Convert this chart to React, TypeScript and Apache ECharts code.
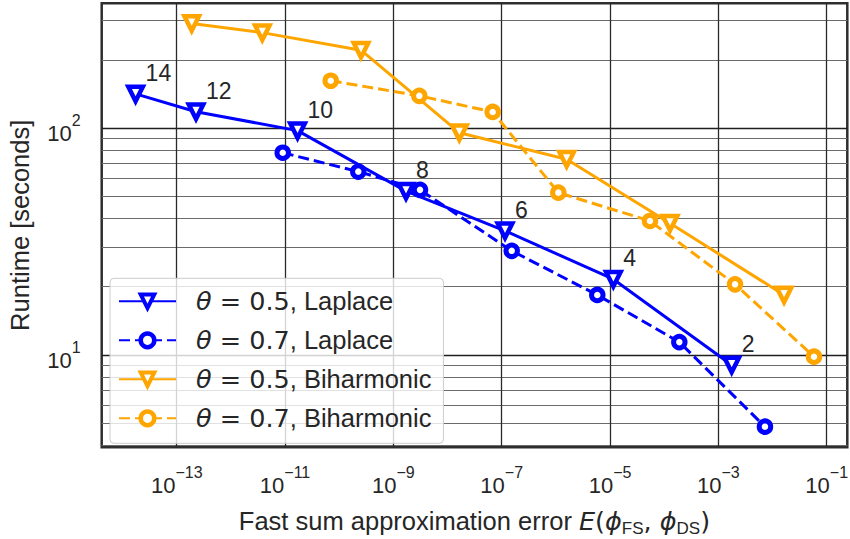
import React, { useEffect, useRef } from 'react';
import * as echarts from 'echarts';

// Fast-sum error vs. runtime, one point per expansion order
const orderLabels = ['14', '12', '10', '8', '6', '4', '2'];

const lapErr05 = [1.74e-14, 2.27e-13, 1.7e-11, 1.71e-9, 1.15e-7, 1.15e-5, 1.76e-3];
const lapTime05 = [141.7, 118.3, 97.6, 52.8, 35.3, 21.6, 9.04];

const lapErr07 = [9.06e-12, 2.25e-10, 3.1e-9, 1.53e-7, 5.81e-6, 1.9e-4, 7.24e-3];
const lapTime07 = [78, 64.4, 53.5, 28.8, 18.4, 11.4, 4.83];

const biErr05 = [1.89e-13, 3.8e-12, 2.52e-10, 1.65e-8, 1.58e-6, 1.28e-4, 1.63e-2];
const biTime05 = [290, 264, 221, 95.6, 73, 38.1, 18.4];

const biErr07 = [6.97e-11, 3.01e-9, 6.81e-8, 1.11e-6, 5.46e-5, 2.03e-3, 5.82e-2];
const biTime07 = [162, 139, 118, 52, 39, 20.5, 9.83];

const thetaLabels = ['0.5', '0.7', '0.5', '0.7'];
const kernelNames = ['Laplace', 'Laplace', 'Biharmonic', 'Biharmonic'];

// tick labels (decade exponents) and minor grid values
const xTickExponents = [-13, -11, -9, -7, -5, -3, -1];
const yTickExponents = [1, 2];
const yMinorValues = [4, 5, 6, 7, 8, 9, 20, 30, 40, 50, 60, 70, 80, 90, 200, 300];

// axis extents in log10 units
const xLogRange = [-14.385, -0.62];
const yLogRange = [0.593, 2.551];

const BLUE = '#0000ff';
const ORANGE = '#ffa500';
const TEXT = '#262626';
const SANS = "'Liberation Sans', Arial, sans-serif";
const MATH = "'DejaVu Sans', sans-serif";
const TRI_DOWN = 'path://M0,0L2,0L1,2Z';
const NAME_SIZE = 25.5;

const toPoints = (err: number[], time: number[]) =>
  err.map((e, i) => [Math.log10(e), Math.log10(time[i])]);

const seriesNames = thetaLabels.map((t, i) => `θ = ${t}, ${kernelNames[i]}`);

const powerLabel = (v: number) => {
  const e = Math.round(v);
  const exp = e < 0 ? `\u2212${-e}` : `${e}`;
  return `{b|10}{s|${exp}}`;
};

const powerRich = {
  b: { fontFamily: SANS, fontSize: 22, color: TEXT, verticalAlign: 'bottom' },
  s: { fontFamily: SANS, fontSize: 16, color: TEXT, verticalAlign: 'bottom', padding: [0, 0, 16, 0] },
};

function lineSeries(
  idx: number,
  data: number[][],
  color: string,
  dashed: boolean,
  symbol: string,
  withLabels: boolean
) {
  const isCircle = symbol === 'circle';
  return {
    type: 'line',
    name: seriesNames[idx],
    data,
    color,
    symbol,
    symbolSize: isCircle ? 11.5 : 14.5,
    showAllSymbol: true,
    lineStyle: { color, width: 3, type: dashed ? [11, 5] : 'solid' },
    itemStyle: { color: '#ffffff', borderColor: color, borderWidth: isCircle ? 5 : 4.5 },
    emphasis: { disabled: true },
    label: withLabels
      ? {
          show: true,
          formatter: (p: any) => orderLabels[p.dataIndex],
          position: 'top',
          distance: 0,
          offset: [10, 0],
          align: 'left',
          verticalAlign: 'bottom',
          fontFamily: SANS,
          fontSize: 23,
          color: TEXT,
        }
      : { show: false },
  };
}

export default function App() {
  const ref = useRef<HTMLDivElement>(null);

  useEffect(() => {
    if (!ref.current) return;
    const chart = echarts.init(ref.current, null, { renderer: 'svg' });

    const option: any = {
      animation: false,
      backgroundColor: '#ffffff',
      grid: {
        left: 101.7,
        right: 2.7,
        top: 3.3,
        bottom: 91.7,
        show: true,
        borderColor: '#2e2e2e',
        borderWidth: 2.5,
        backgroundColor: '#ffffff',
        containLabel: false,
        outerBoundsMode: 'none',
      },
      xAxis: {
        type: 'value',
        min: xLogRange[0],
        max: xLogRange[1],
        axisLine: { show: false },
        axisTick: { show: false, customValues: xTickExponents },
        axisLabel: {
          customValues: xTickExponents,
          formatter: powerLabel,
          margin: 17,
          rich: powerRich,
        },
        splitLine: { show: true, lineStyle: { color: '#2a2a2a', width: 1.3 } },
        name: '{t|Fast sum approximation error }{mi|E}{m|(}{mi|ϕ}{sub|FS}{m|, }{mi|ϕ}{sub|DS}{m|)}',
        nameLocation: 'middle',
        nameGap: 58,
        nameTextStyle: {
          rich: {
            t: { fontFamily: SANS, fontSize: NAME_SIZE, color: TEXT, lineHeight: 32 },
            m: { fontFamily: MATH, fontSize: NAME_SIZE, color: TEXT, lineHeight: 32 },
            mi: { fontFamily: MATH, fontStyle: 'italic', fontSize: NAME_SIZE, color: TEXT, lineHeight: 32 },
            sub: { fontFamily: SANS, fontSize: 17, color: TEXT, verticalAlign: 'bottom', padding: [13, 0, 0, 0] },
          },
        },
      },
      yAxis: [
        {
          type: 'value',
          min: yLogRange[0],
          max: yLogRange[1],
          axisLine: { show: false },
          axisTick: { show: false, customValues: yTickExponents },
          axisLabel: {
            customValues: yTickExponents,
            formatter: powerLabel,
            margin: 21,
            rich: powerRich,
          },
          splitLine: { show: true, lineStyle: { color: '#1f1f1f', width: 1.3 } },
          name: 'Runtime [seconds]',
          nameLocation: 'middle',
          nameGap: 68,
          nameTextStyle: { fontFamily: SANS, fontSize: NAME_SIZE, color: TEXT, lineHeight: 28 },
        },
        {
          type: 'value',
          position: 'left',
          min: yLogRange[0],
          max: yLogRange[1],
          axisLine: { show: false },
          axisTick: { show: false, customValues: yMinorValues.map((v) => Math.log10(v)) },
          axisLabel: { show: false },
          splitLine: { show: true, lineStyle: { color: '#6b6b6b', width: 1 } },
        },
      ],
      legend: {
        orient: 'vertical',
        left: 110,
        top: 278.3,
        padding: [9, 12, 11, 8],
        itemGap: 11,
        itemWidth: 57,
        itemHeight: 17,
        selectedMode: false,
        backgroundColor: 'rgba(255,255,255,0.8)',
        borderColor: '#cccccc',
        borderWidth: 1,
        borderRadius: 4,
        data: seriesNames.map((name, i) => ({
          name,
          itemStyle: { borderWidth: i % 2 === 0 ? 4 : 4.5 },
        })),
        formatter: (name: string) => {
          const i = seriesNames.indexOf(name);
          return `{i|θ}{m| = ${thetaLabels[i]}}{t|, ${kernelNames[i]}}`;
        },
        textStyle: {
          color: TEXT,
          fontSize: NAME_SIZE,
          lineHeight: 28,
          padding: [0, 0, 0, 15],
          rich: {
            i: { fontFamily: MATH, fontStyle: 'italic', fontSize: NAME_SIZE, color: TEXT, lineHeight: 28 },
            m: { fontFamily: MATH, fontSize: NAME_SIZE, color: TEXT, lineHeight: 28 },
            t: { fontFamily: SANS, fontSize: NAME_SIZE, color: TEXT, lineHeight: 28 },
          },
        },
      },
      series: [
        lineSeries(0, toPoints(lapErr05, lapTime05), BLUE, false, TRI_DOWN, true),
        lineSeries(1, toPoints(lapErr07, lapTime07), BLUE, true, 'circle', false),
        lineSeries(2, toPoints(biErr05, biTime05), ORANGE, false, TRI_DOWN, false),
        lineSeries(3, toPoints(biErr07, biTime07), ORANGE, true, 'circle', false),
      ],
    };

    chart.setOption(option);
    return () => chart.dispose();
  }, []);

  return (
    <div
      ref={ref}
      style={{ position: 'fixed', left: 0, top: 0, width: 850, height: 539, background: '#ffffff' }}
    />
  );
}
